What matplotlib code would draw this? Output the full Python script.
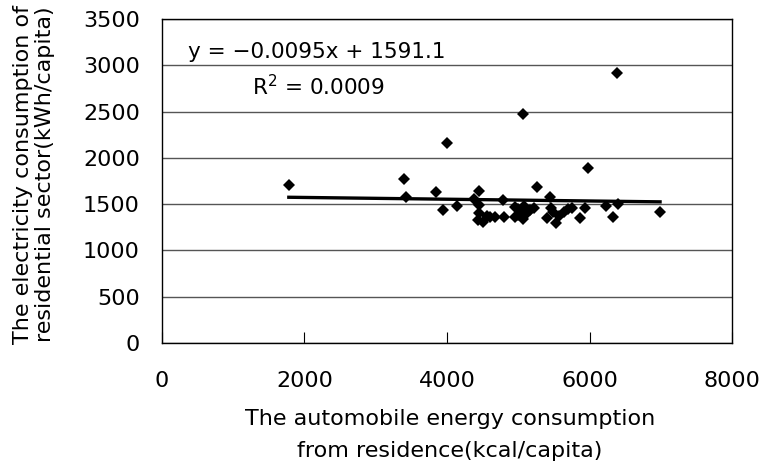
import numpy as np
import matplotlib.pyplot as plt

# Données
auto_energie = [1780, 3390, 3430, 3840, 3940, 4000, 4140, 4380, 4450, 4450,
                4450, 4430, 4510, 4600, 4670, 4800, 4780, 4950, 4950, 5000,
                5030, 5060, 5080, 5060, 5120, 5220, 5260, 5410, 5440, 5460,
                5530, 5570, 5640, 5700, 5750, 5870, 5930, 5980, 6230, 6330,
                6400, 6990, 6380, 5000, 5490, 4560, 5160]
elec_conso = [1710, 1770, 1575, 1635, 1440, 2160, 1480, 1560, 1640, 1490,
              1400, 1330, 1310, 1365, 1365, 1365, 1550, 1470, 1365, 1450,
              1420, 1340, 1480, 2470, 1400, 1460, 1690, 1350, 1580, 1455,
              1295, 1370, 1410, 1450, 1455, 1350, 1455, 1890, 1475, 1365,
              1500, 1410, 2920, 1380, 1410, 1370, 1440]

# Droite de tendance
pente = -0.0095
ordonnee = 1591.1
x_tendance = np.array([min(auto_energie), max(auto_energie)])

plt.rcParams['font.family'] = ['DejaVu Sans']

fig = plt.figure(figsize=(7.63, 4.63), dpi=100)
ax = fig.add_axes([0.2123, 0.2592, 0.7471, 0.6998])

ax.plot(auto_energie, elec_conso, linestyle="none", marker="D",
        markersize=6.2, color="black", markeredgewidth=0, zorder=3)
ax.plot(x_tendance, pente * x_tendance + ordonnee, color="black",
        linewidth=2.4, zorder=2)

ax.set_xlim(0, 8000)
ax.set_ylim(0, 3500)
ax.set_xticks([0, 2000, 4000, 6000, 8000])
ax.set_yticks(np.arange(0, 3501, 500))
ax.yaxis.grid(True, color="#555555", linewidth=1.0)
ax.set_axisbelow(True)
ax.tick_params(axis="x", direction="in", length=8, labelsize=16, pad=20)
ax.tick_params(axis="y", direction="in", length=0, labelsize=16, pad=16)
for s in ax.spines.values():
    s.set_linewidth(1.0)

ax.text(0.0456, 0.898, "y = \u22120.0095x + 1591.1", transform=ax.transAxes,
        fontsize=15.5, va="center")
ax.text(0.158, 0.790, "R$^2$ = 0.0009", transform=ax.transAxes,
        fontsize=15.5, va="center")

ax.set_xlabel("The automobile energy consumption\nfrom residence(kcal/capita)",
              fontsize=16, linespacing=1.75)
ax.xaxis.set_label_coords(0.505, -0.205)
ax.set_ylabel("The electricity consumption of\nresidential sector(kWh/capita)",
              fontsize=16, linespacing=1.1)
ax.yaxis.set_label_coords(-0.188, 0.52)

fig.savefig("out.png", dpi=100)
